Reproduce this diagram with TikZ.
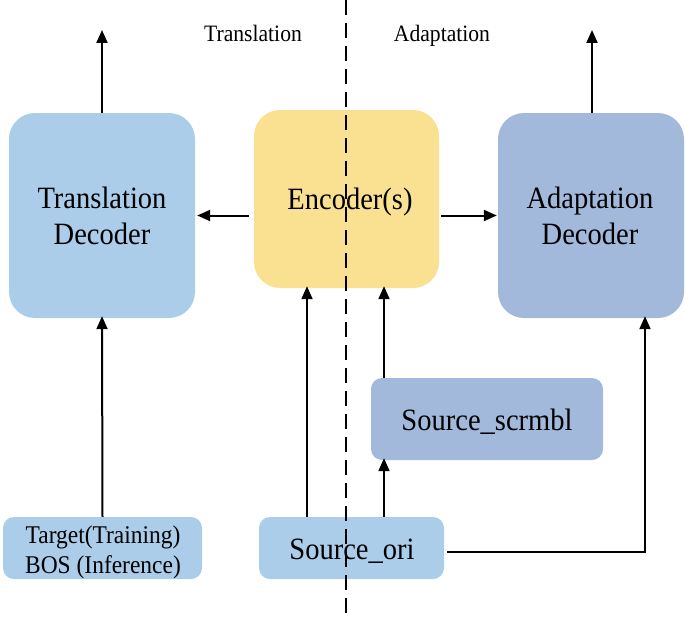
\documentclass[tikz,border=0pt]{standalone}
\usepackage{fontspec}
\setmainfont{Liberation Serif}
\newfontfamily\condfont[FakeStretch=0.92]{Liberation Serif}
\usetikzlibrary{arrows.meta}
\definecolor{lblue}{HTML}{ABCDE9}
\definecolor{dblue}{HTML}{A2B9DC}
\definecolor{yel}{HTML}{FAE192}
\tikzset{
  bigbox/.style={rounded corners=26pt, inner sep=0pt},
  smallbox/.style={rounded corners=11pt, inner sep=0pt},
  bigtext/.style={inner sep=0pt, align=center, anchor=base, font=\condfont\fontsize{31}{36}\selectfont},
  smalltext/.style={inner sep=0pt, align=center, anchor=base, font=\condfont\fontsize{25.5}{29.5}\selectfont},
  arr/.style={line width=2pt, -{Triangle[length=13pt,width=11pt]}},
  toplabel/.style={inner sep=0pt, anchor=base, font=\condfont\fontsize{23.5}{26}\selectfont}
}
\begin{document}
\begin{tikzpicture}[x=1pt,y=-1pt]
\useasboundingbox (0,0) rectangle (685,618);
% boxes
\node[bigbox, fill=lblue, minimum width=186pt, minimum height=205pt] (td) at (102,215.5) {};
\node[bigbox, fill=yel, minimum width=185pt, minimum height=178pt] (enc) at (346.5,199) {};
\node[bigbox, fill=dblue, minimum width=186pt, minimum height=205pt] (ad) at (591,215.5) {};
\node[smallbox, fill=dblue, minimum width=232pt, minimum height=82pt] (scr) at (487,419) {};
\node[smallbox, fill=lblue, minimum width=199pt, minimum height=62pt] (tgt) at (102.5,548) {};
\node[smallbox, fill=lblue, minimum width=185pt, minimum height=62pt] (src) at (351.5,548) {};
% texts (base anchor = last line's baseline)
\node[bigtext] (tdl) at (102,244) {Translation\\Decoder};
\node[bigtext] (encl) at (350,209) {Encoder(s)};
\node[bigtext] (adl) at (590,244) {Adaptation\\Decoder};
\node[bigtext] (scrl) at (487,430) {Source\_scrmbl};
\node[bigtext] (srcl) at (352,559) {Source\_ori};
\node[smalltext] (tgtl) at (103,573) {Target(Training)\\BOS (Inference)};
% top labels
\node[toplabel] (lt) at (253,42) {Translation};
\node[toplabel] (la) at (442,42) {Adaptation};
% coordinates
\coordinate (outL) at (102,30);
\coordinate (outR) at (592,30);
\coordinate (c1) at (307,0);
\coordinate (c2) at (384,0);
\coordinate (c3) at (645,0);
% arrows
\draw[arr] (td.north) -- (outL);
\draw[arr] (ad.north -| outR) -- (outR);
\draw[arr] ([xshift=-5pt]enc.west |- td.east) -- ([xshift=2pt]td.east);
\draw[arr] ([xshift=2pt]enc.east |- ad.west) -- ([xshift=-1pt]ad.west);
\draw[arr] (tgt.north) -- ([yshift=2pt]td.south);
\draw[arr] (src.north -| c1) -- ([yshift=2pt]enc.south -| c1);
\draw[arr] (src.north -| c2) -- ([yshift=2pt]scr.south -| c2);
\draw[arr] (scr.north -| c2) -- ([yshift=2pt]enc.south -| c2);
\draw[arr] ([xshift=3pt,yshift=-4pt]src.east) -| ([yshift=2pt]ad.south -| c3);
% divider
\draw[line width=2pt, dash pattern=on 15pt off 8pt] (346,0) -- (346,618);
\end{tikzpicture}
\end{document}
